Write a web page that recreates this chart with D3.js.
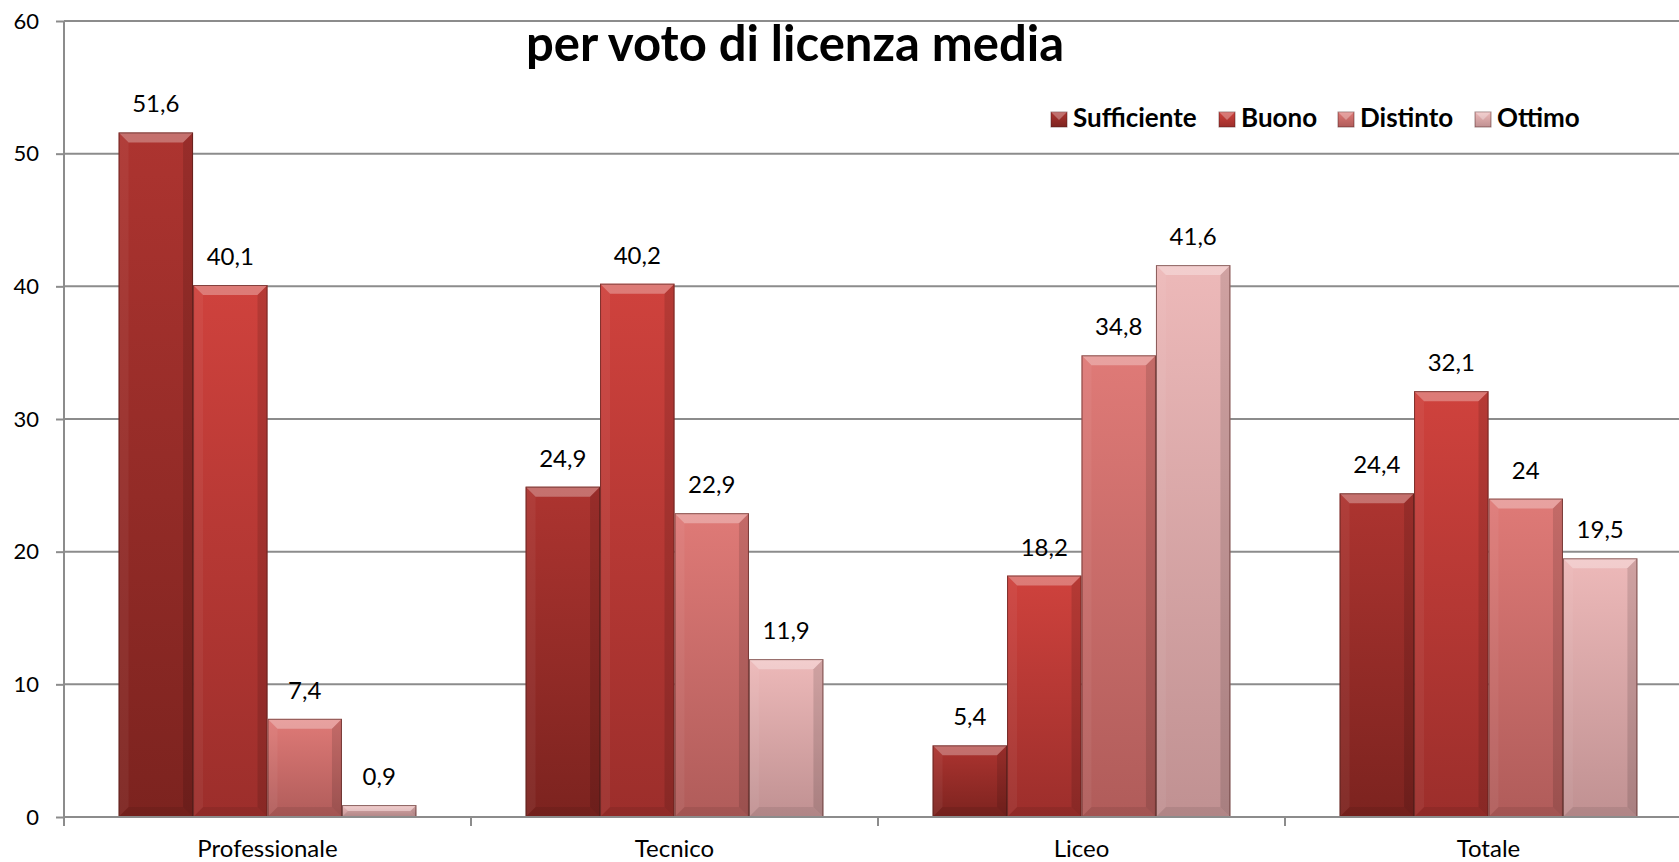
<!DOCTYPE html>
<html>
<head>
<meta charset="utf-8">
<script src="https://cdn.jsdelivr.net/npm/d3@7"></script>
<style>
  html, body { margin: 0; padding: 0; background: #fff; }
  svg { display: block; font-family: Lato, "Open Sans", sans-serif; }
</style>
</head>
<body>
<svg id="chart" width="1679" height="862"></svg>
<script>
const categories = ["Professionale", "Tecnico", "Liceo", "Totale"];
const seriesNames = ["Sufficiente", "Buono", "Distinto", "Ottimo"];
const sufficiente = [51.6, 24.9, 5.4, 24.4];
const buono = [40.1, 40.2, 18.2, 32.1];
const distinto = [7.4, 22.9, 34.8, 24];
const ottimo = [0.9, 11.9, 41.6, 19.5];
const yTicks = [0, 10, 20, 30, 40, 50, 60];
const titleText = "per voto di licenza media";

// top / bottom colours of each series gradient
const colors = {
  Sufficiente: ["#ad3430", "#7c231f"],
  Buono: ["#cf423d", "#9c2e2b"],
  Distinto: ["#df7a77", "#b05c5a"],
  Ottimo: ["#edb9b9", "#c09192"]
};

const seriesValues = [sufficiente, buono, distinto, ottimo];
const data = categories.map((c, i) => ({
  category: c,
  values: seriesNames.map((s, j) => ({ series: s, value: seriesValues[j][i] }))
}));

const conf = {
  left: 64,
  band: 407,
  top: 21,
  bottom: 817,
  pad: 54.6,
  bevel: 10
};

const svg = d3.select('#chart');

const x0 = d3.scaleBand()
  .domain(categories)
  .range([conf.left, conf.left + conf.band * categories.length])
  .padding(0);

const x1 = d3.scaleBand()
  .domain(seriesNames)
  .range([conf.pad, conf.band - conf.pad])
  .padding(0);

const y = d3.scaleLinear()
  .domain([0, 60])
  .range([conf.bottom, conf.top]);

// gradients
const defs = svg.append('defs');
seriesNames.forEach((s, i) => {
  const g = defs.append('linearGradient')
    .attr('id', 'grad' + i)
    .attr('x1', 0).attr('y1', 0).attr('x2', 0).attr('y2', 1);
  g.append('stop').attr('offset', '0%').attr('stop-color', colors[s][0]);
  g.append('stop').attr('offset', '100%').attr('stop-color', colors[s][1]);
});

// gridlines
svg.append('g')
  .selectAll('line')
  .data(yTicks.filter(t => t > 0))
  .enter().append('line')
    .attr('x1', conf.left)
    .attr('x2', 1679)
    .attr('y1', d => y(d))
    .attr('y2', d => y(d))
    .attr('stroke', '#8c8c8c')
    .attr('stroke-width', 2);

// y axis
const yAxis = svg.append('g')
  .attr('transform', `translate(${conf.left},0)`)
  .call(d3.axisLeft(y).tickValues(yTicks).tickSize(8).tickPadding(17).tickFormat(d3.format('d')));
yAxis.select('.domain').remove();
yAxis.selectAll('.tick line').attr('stroke', '#8c8c8c').attr('stroke-width', 2);
yAxis.selectAll('.tick text')
  .attr('font-size', 22)
  .attr('font-family', 'Lato, sans-serif')
  .attr('fill', '#000');
svg.append('line')
  .attr('x1', conf.left).attr('x2', conf.left)
  .attr('y1', conf.top).attr('y2', conf.bottom + 1)
  .attr('stroke', '#8c8c8c')
  .attr('stroke-width', 2);

// bars
const groups = svg.append('g')
  .selectAll('g')
  .data(data)
  .enter().append('g')
    .attr('transform', d => `translate(${x0(d.category)},0)`);

const bars = groups.selectAll('g.bar')
  .data(d => d.values)
  .enter().append('g')
    .attr('class', 'bar');

function bevelPaths(d) {
  const xa = x1(d.series), xb = xa + x1.bandwidth();
  const ya = y(d.value), yb = y(0);
  const b = Math.min(conf.bevel, (yb - ya) / 2);
  return {
    top: [[xa, ya], [xb, ya], [xb - b, ya + b], [xa + b, ya + b]],
    left: [[xa, ya], [xa + b, ya + b], [xa + b, yb - b], [xa, yb]],
    right: [[xb, ya], [xb - b, ya + b], [xb - b, yb - b], [xb, yb]],
    bottom: [[xa, yb], [xa + b, yb - b], [xb - b, yb - b], [xb, yb]]
  };
}
const poly = pts => pts.map(p => p.join(',')).join(' ');

bars.append('rect')
  .attr('x', d => x1(d.series))
  .attr('y', d => y(d.value))
  .attr('width', x1.bandwidth())
  .attr('height', d => y(0) - y(d.value))
  .attr('fill', d => `url(#grad${seriesNames.indexOf(d.series)})`);

bars.append('polygon')
  .attr('points', d => poly(bevelPaths(d).top))
  .attr('fill', '#fff').attr('fill-opacity', 0.3);
bars.append('polygon')
  .attr('points', d => poly(bevelPaths(d).left))
  .attr('fill', '#fff').attr('fill-opacity', 0.05);
bars.append('polygon')
  .attr('points', d => poly(bevelPaths(d).right))
  .attr('fill', '#000').attr('fill-opacity', 0.12);
bars.append('polygon')
  .attr('points', d => poly(bevelPaths(d).bottom))
  .attr('fill', '#000').attr('fill-opacity', 0.08);

bars.append('rect')
  .attr('x', d => x1(d.series) + 0.5)
  .attr('y', d => y(d.value) + 0.5)
  .attr('width', x1.bandwidth() - 1)
  .attr('height', d => y(0) - y(d.value) - 1)
  .attr('fill', 'none')
  .attr('stroke', '#4a1a18')
  .attr('stroke-opacity', 0.6)
  .attr('stroke-width', 1);

// value labels
const fmt = v => String(v).replace('.', ',');
bars.append('text')
  .attr('x', d => x1(d.series) + x1.bandwidth() / 2)
  .attr('y', d => y(d.value) - 20)
  .attr('text-anchor', 'middle')
  .attr('font-size', 24)
  .attr('fill', '#000')
  .text(d => fmt(d.value));

// x axis
svg.append('line')
  .attr('x1', conf.left).attr('x2', 1679)
  .attr('y1', conf.bottom).attr('y2', conf.bottom)
  .attr('stroke', '#8c8c8c')
  .attr('stroke-width', 2);

svg.append('g')
  .selectAll('line')
  .data(d3.range(categories.length + 1))
  .enter().append('line')
    .attr('x1', i => conf.left + i * x0.bandwidth())
    .attr('x2', i => conf.left + i * x0.bandwidth())
    .attr('y1', conf.bottom)
    .attr('y2', conf.bottom + 9)
    .attr('stroke', '#8c8c8c')
    .attr('stroke-width', 2);

svg.append('g')
  .selectAll('text')
  .data(categories)
  .enter().append('text')
    .attr('x', c => x0(c) + x0.bandwidth() / 2)
    .attr('y', 857)
    .attr('text-anchor', 'middle')
    .attr('font-size', 24)
    .attr('fill', '#000')
    .text(c => c);

// title
svg.append('text')
  .attr('x', 795)
  .attr('y', 61)
  .attr('text-anchor', 'middle')
  .attr('font-size', 49)
  .attr('font-weight', 'bold')
  .attr('fill', '#000')
  .text(titleText);

// legend
const legendX = [1051, 1219, 1338, 1475];
const legend = svg.append('g')
  .selectAll('g')
  .data(seriesNames)
  .enter().append('g')
    .attr('transform', (d, i) => `translate(${legendX[i]},112)`);

legend.append('rect')
  .attr('width', 16).attr('height', 15)
  .attr('fill', (d, i) => `url(#grad${i})`)
  .attr('stroke', '#4a1a18')
  .attr('stroke-opacity', 0.5);
legend.append('polygon')
  .attr('points', '0,0 16,0 8,8')
  .attr('fill', '#fff').attr('fill-opacity', 0.3);

legend.append('text')
  .attr('x', 22)
  .attr('y', 15)
  .attr('font-size', 26)
  .attr('font-weight', 'bold')
  .attr('fill', '#000')
  .text(d => d);
</script>
</body>
</html>
